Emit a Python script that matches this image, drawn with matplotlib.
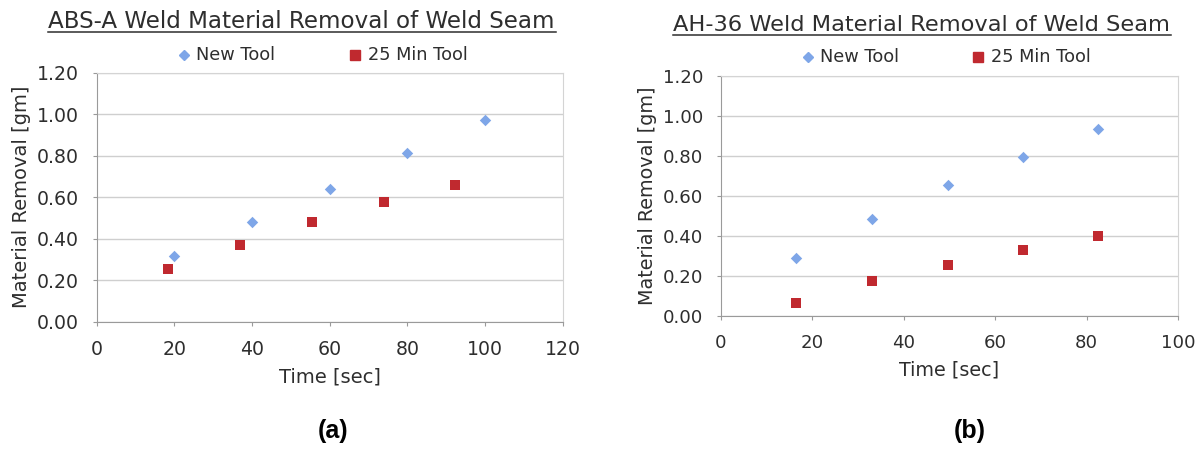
import matplotlib
matplotlib.use("Agg")
import matplotlib.pyplot as plt

# Data
abs_new_x = [20, 40, 60, 80, 100]
abs_new_y = [0.314, 0.482, 0.637, 0.814, 0.969]
abs_used_x = [18.4, 37.0, 55.5, 74.0, 92.4]
abs_used_y = [0.254, 0.370, 0.479, 0.576, 0.657]

ah_new_x = [16.5, 33.0, 49.6, 66.0, 82.6]
ah_new_y = [0.292, 0.487, 0.654, 0.796, 0.935]
ah_used_x = [16.5, 33.0, 49.6, 66.0, 82.6]
ah_used_y = [0.067, 0.175, 0.255, 0.332, 0.400]

y_ticks = [0.0, 0.2, 0.4, 0.6, 0.8, 1.0, 1.2]
x_ticks_a = [0, 20, 40, 60, 80, 100, 120]
x_ticks_b = [0, 20, 40, 60, 80, 100]

series_labels = ["New Tool", "25 Min Tool"]
titles = ["ABS-A Weld Material Removal of Weld Seam",
          "AH-36 Weld Material Removal of Weld Seam"]
panel_labels = ["(a)", "(b)"]

BLUE = "#7ea6e8"
RED = "#c0292f"
TXT = "#2e2e2e"
GRID = "#cfcfcf"
AX = "#9a9a9a"

W, H = 1203, 451
fig = plt.figure(figsize=(W / 100, H / 100), dpi=100)
fig.patch.set_facecolor("white")

def frac(x0, y0, x1, y1):
    return [x0 / W, 1 - y1 / H, (x1 - x0) / W, (y1 - y0) / H]

panels = [
    dict(rect=frac(96.5, 72.5, 562.7, 321.7), xlim=(0, 120), xt=x_ticks_a,
         new=(abs_new_x, abs_new_y), used=(abs_used_x, abs_used_y),
         title=titles[0], title_x=301, title_base=28, title_fs=16.6, tick_fs=13.6,
         leg_y=55, leg_new_x=184, leg_used_x=355, lab_fs=14,
         panel=panel_labels[0], panel_x=333),
    dict(rect=frac(720.7, 76, 1178, 316), xlim=(0, 100), xt=x_ticks_b,
         new=(ah_new_x, ah_new_y), used=(ah_used_x, ah_used_y),
         title=titles[1], title_x=921, title_base=31, title_fs=16.2, tick_fs=13.1,
         leg_y=57, leg_new_x=808, leg_used_x=978, lab_fs=13.8,
         panel=panel_labels[1], panel_x=970),
]

for p in panels:
    ax = fig.add_axes(p["rect"])
    ax.set_xlim(*p["xlim"])
    ax.set_ylim(0, 1.2)
    ax.set_xticks(p["xt"])
    ax.set_yticks(y_ticks)
    ax.set_yticklabels([f"{v:.2f}" for v in y_ticks])
    ax.grid(axis="y", color=GRID, linewidth=1)
    ax.set_axisbelow(True)
    for s in ["top", "right"]:
        ax.spines[s].set_color("#d4d4d4")
    for s in ["left", "bottom"]:
        ax.spines[s].set_color(AX)
    ax.tick_params(axis="both", colors=AX, labelcolor=TXT,
                   labelsize=p["tick_fs"], direction="out", length=3)
    ax.tick_params(axis="x", pad=10)
    ax.tick_params(axis="y", pad=9.5)
    ax.scatter(*p["new"], marker="D", s=34, color=BLUE, zorder=3,
               linewidths=0)
    ax.scatter(*p["used"], marker="s", s=58, color=RED, zorder=3,
               linewidths=0)
    ax.set_xlabel("Time [sec]", fontsize=p["lab_fs"], color=TXT, labelpad=6)
    ax.set_ylabel("Material Removal [gm]", fontsize=p["lab_fs"], color=TXT,
                  labelpad=4)

    t = fig.text(p["title_x"] / W, 1 - p["title_base"] / H, p["title"],
                 fontsize=p["title_fs"], color=TXT, ha="center", va="baseline")
    fig.canvas.draw()
    bb = t.get_window_extent()
    uy = 1 - (p["title_base"] + 4) / H
    fig.add_artist(plt.Line2D([bb.x0 / W, (bb.x1 + 2) / W], [uy, uy],
                              color=TXT, linewidth=1.1,
                              transform=fig.transFigure))

    ly = 1 - p["leg_y"] / H
    fig.add_artist(plt.Line2D([p["leg_new_x"] / W], [ly], marker="D",
                              markersize=5.5, color=BLUE, linestyle="none",
                              transform=fig.transFigure))
    fig.text((p["leg_new_x"] + 12) / W, ly, series_labels[0], fontsize=12.8,
             color=TXT, ha="left", va="center")
    fig.add_artist(plt.Line2D([p["leg_used_x"] / W], [ly], marker="s",
                              markersize=7, color=RED, linestyle="none",
                              transform=fig.transFigure))
    fig.text((p["leg_used_x"] + 13) / W, ly, series_labels[1], fontsize=12.8,
             color=TXT, ha="left", va="center")

    fig.text(p["panel_x"] / W, 1 - 431 / H, p["panel"], fontsize=18,
             fontweight="bold", family="Liberation Sans", color="black",
             ha="center", va="center")

fig.savefig("out.png", dpi=100, facecolor="white")
